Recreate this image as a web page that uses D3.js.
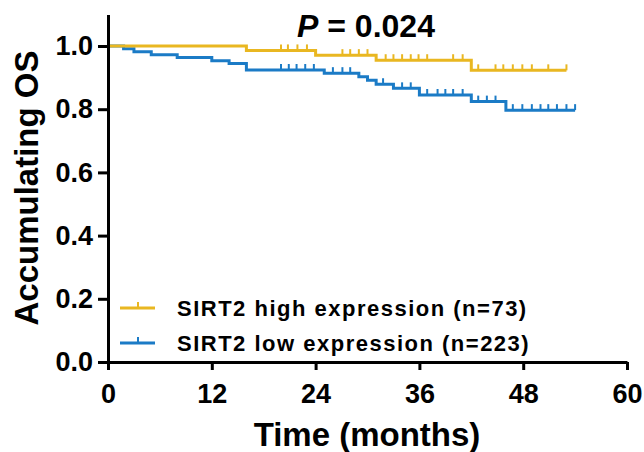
<!DOCTYPE html>
<html>
<head>
<meta charset="utf-8">
<script src="https://cdn.jsdelivr.net/npm/d3@7"></script>
<style>
  body { margin: 0; background: #fff; }
  text { font-family: "Liberation Sans", Arial, sans-serif; font-weight: bold; }
</style>
</head>
<body>
<div id="vis"></div>
<script>
const FRAME_WIDTH = 644;
const FRAME_HEIGHT = 452;
const MARGINS = {left: 108, right: 17, top: 12, bottom: 90};

// SIRT2 high expression (n=73): step times / survival
const highTimes = [0, 16, 24, 31, 42, 53];
const highSurv  = [1.0, 0.986, 0.971, 0.955, 0.923, 0.923];
const highCensor = [20, 20.8, 21.9, 23, 27.1, 28, 29, 30, 32.1, 33, 34, 35, 35.9, 36.9,
                    39.9, 41, 42.8, 44.8, 45.7, 46.8, 47.9, 49, 50.9, 53];

// SIRT2 low expression (n=223)
const lowTimes = [0, 1.8, 3, 5, 8, 12, 14, 16, 25, 29, 30, 31, 33, 36, 42, 46, 54];
const lowSurv  = [1.0, 0.991, 0.982, 0.972, 0.964, 0.953, 0.945, 0.924, 0.914, 0.903,
                  0.892, 0.879, 0.866, 0.845, 0.824, 0.797, 0.797];
const lowCensor = [20, 20.9, 21.8, 22.8, 23.8, 26, 27.1, 28, 31.8, 34, 35, 36.9, 38.1, 39,
                   39.9, 41, 42.8, 43.8, 44.8, 46.8, 47.9, 49, 50, 50.9, 51.9, 53, 54];

const seriesNames = ["SIRT2 high expression (n=73)", "SIRT2 low expression (n=223)"];
const seriesColors = ["#E9B721", "#1B7BC6"];

const xTicks = [0, 12, 24, 36, 48, 60];
const yTicks = [0, 0.2, 0.4, 0.6, 0.8, 1.0];

const svg = d3.select("#vis").append("svg")
    .attr("width", FRAME_WIDTH)
    .attr("height", FRAME_HEIGHT);

const X_SCALE = d3.scaleLinear().domain([0, 60]).range([MARGINS.left, MARGINS.left + 519]);
const Y_SCALE = d3.scaleLinear().domain([0, 1.1]).range([362, 362 - 316 * 1.1]);

// step lookup of survival at a censor time
function survAt(times, surv, t) {
  let s = surv[0];
  for (let i = 0; i < times.length; i++) { if (times[i] <= t) s = surv[i]; }
  return s;
}

const line = d3.line()
    .x(d => X_SCALE(d[0]))
    .y(d => Y_SCALE(d[1]))
    .curve(d3.curveStepAfter);

const groups = [
  {times: highTimes, surv: highSurv, censor: highCensor, color: seriesColors[0]},
  {times: lowTimes, surv: lowSurv, censor: lowCensor, color: seriesColors[1]}
];

// draw low first so high sits on top
groups.slice().reverse().forEach(g => {
  svg.append("path")
      .datum(d3.zip(g.times, g.surv))
      .attr("fill", "none")
      .attr("stroke", g.color)
      .attr("stroke-width", 3)
      .attr("d", line);
  svg.selectAll(null)
      .data(g.censor)
      .enter()
      .append("line")
        .attr("x1", d => X_SCALE(d))
        .attr("x2", d => X_SCALE(d))
        .attr("y1", d => Y_SCALE(survAt(g.times, g.surv, d)))
        .attr("y2", d => Y_SCALE(survAt(g.times, g.surv, d)) - 6)
        .attr("stroke", g.color)
        .attr("stroke-width", 2);
});

// axes
const yAxis = svg.append("g")
    .attr("transform", "translate(" + MARGINS.left + ",0)")
    .call(d3.axisLeft(Y_SCALE).tickValues(yTicks).tickFormat(d3.format(".1f"))
          .tickSize(10).tickSizeOuter(0).tickPadding(5));

const xAxis = svg.append("g")
    .attr("transform", "translate(0," + Y_SCALE(0) + ")")
    .call(d3.axisBottom(X_SCALE).tickValues(xTicks).tickSize(8).tickSizeOuter(0).tickPadding(14));

[yAxis, xAxis].forEach(a => {
  a.selectAll("path, line").attr("stroke", "#000").attr("stroke-width", 3);
  a.selectAll("text").attr("font-size", 27).attr("fill", "#000")
      .attr("font-family", "Liberation Sans, Arial, sans-serif").attr("font-weight", "bold");
});

// titles
svg.append("text")
    .attr("transform", "translate(38," + 188 + ") rotate(-90)")
    .attr("text-anchor", "middle")
    .attr("font-size", 33)
    .text("Accumulating OS");

svg.append("text")
    .attr("x", 367)
    .attr("y", 446)
    .attr("text-anchor", "middle")
    .attr("font-size", 33)
    .text("Time (months)");

const pText = svg.append("text")
    .attr("x", 366)
    .attr("y", 37)
    .attr("text-anchor", "middle")
    .attr("font-size", 32);
pText.append("tspan").attr("font-style", "italic").text("P");
pText.append("tspan").text(" = 0.024");

// legend
const legend = svg.append("g");
seriesNames.forEach((name, i) => {
  const y = 308 + i * 35;
  legend.append("line")
      .attr("x1", 120).attr("x2", 155).attr("y1", y).attr("y2", y)
      .attr("stroke", seriesColors[i]).attr("stroke-width", 3);
  legend.append("line")
      .attr("x1", 138).attr("x2", 138).attr("y1", y).attr("y2", y - 6)
      .attr("stroke", seriesColors[i]).attr("stroke-width", 2);
  legend.append("text")
      .attr("x", 177)
      .attr("y", y + 8)
      .attr("font-size", 22)
      .attr("letter-spacing", "1.5px")
      .text(name);
});
</script>
</body>
</html>
